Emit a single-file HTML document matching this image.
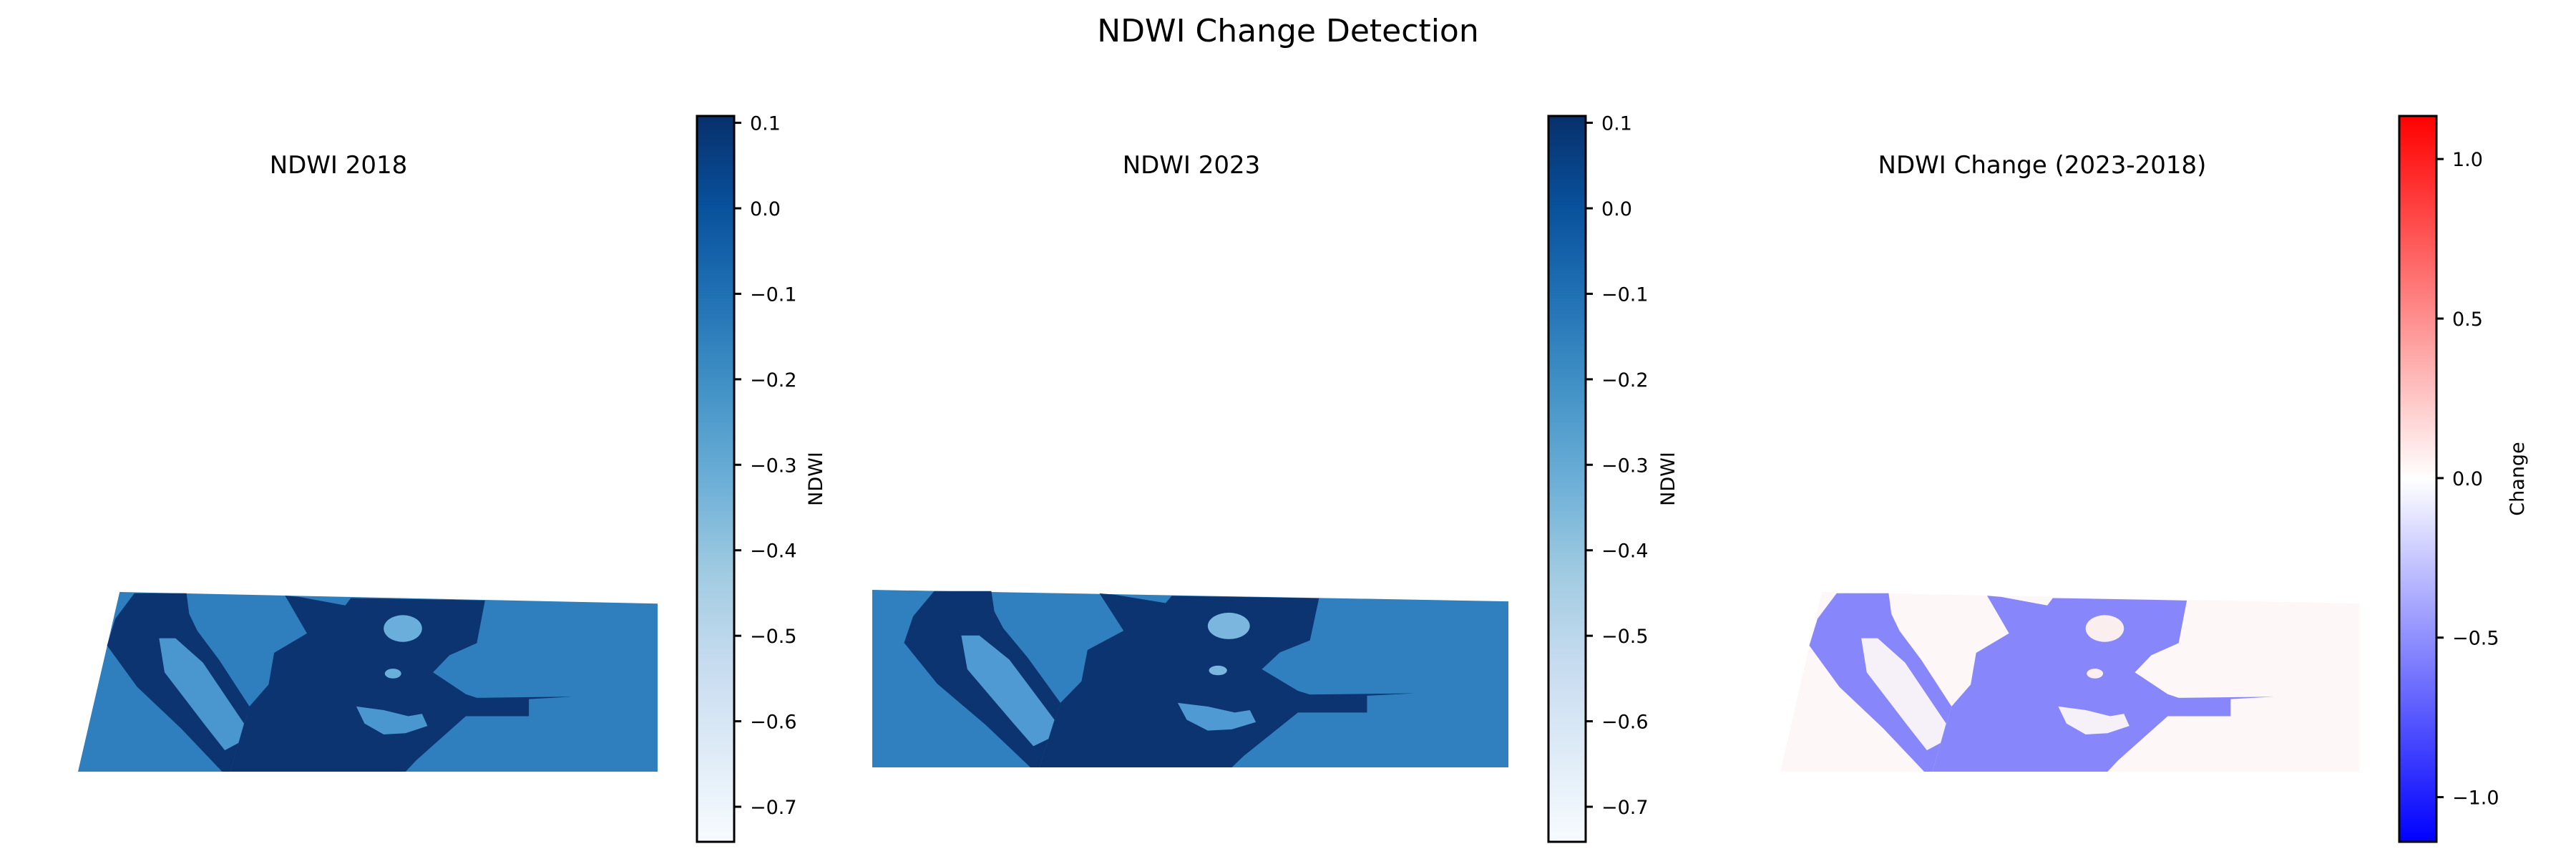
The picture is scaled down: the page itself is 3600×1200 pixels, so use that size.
<!DOCTYPE html>
<html><head><meta charset="utf-8"><style>
html,body{margin:0;padding:0;background:#fff;}
svg{display:block;font-family:"DejaVu Sans","Liberation Sans",sans-serif;}
</style></head><body>
<svg id="fig" width="3600" height="1200" viewBox="0 0 3600 1200" xmlns="http://www.w3.org/2000/svg">
<defs>
<linearGradient id="blues" x1="0" y1="1" x2="0" y2="0">
<stop offset="0" stop-color="#f7fbff"/><stop offset="0.125" stop-color="#deebf7"/><stop offset="0.25" stop-color="#c6dbef"/><stop offset="0.375" stop-color="#9ecae1"/><stop offset="0.5" stop-color="#6baed6"/><stop offset="0.625" stop-color="#4292c6"/><stop offset="0.75" stop-color="#2171b5"/><stop offset="0.875" stop-color="#08519c"/><stop offset="1" stop-color="#08306b"/>
</linearGradient>
<linearGradient id="bwr" x1="0" y1="1" x2="0" y2="0">
<stop offset="0" stop-color="#0000ff"/><stop offset="0.5" stop-color="#ffffff"/><stop offset="1" stop-color="#ff0000"/>
</linearGradient>
</defs>
<text x="1800" y="58" font-size="44" text-anchor="middle">NDWI Change Detection</text>
<text x="473" y="242" font-size="34" text-anchor="middle">NDWI 2018</text>
<text x="1665" y="242" font-size="34" text-anchor="middle">NDWI 2023</text>
<text x="2854" y="242" font-size="34" text-anchor="middle">NDWI Change (2023-2018)</text>
<g id="maps"></g>
<g id="cbars"></g>
</svg>
<script>
const ndwiTicks = [0.1, 0.0, -0.1, -0.2, -0.3, -0.4, -0.5, -0.6, -0.7];
const ndwiTickLabels = ["0.1","0.0","\u22120.1","\u22120.2","\u22120.3","\u22120.4","\u22120.5","\u22120.6","\u22120.7"];
const ndwiRange = [-0.741, 0.108];
const changeTicks = [1.0, 0.5, 0.0, -0.5, -1.0];
const changeTickLabels = ["1.0","0.5","0.0","\u22120.5","\u22121.0"];
const changeRange = [-1.14, 1.135];

const NS = "http://www.w3.org/2000/svg";
function mk(tag, attrs, parent){const e=document.createElementNS(NS,tag);for(const k in attrs)e.setAttribute(k,attrs[k]);parent.appendChild(e);return e;}

const shapeBase = [[218,140],[1200,188],[1200,878],[142,878]];
const shapeLeft = [[245,145],[340,145],[345,230],[360,300],[400,420],[455,610],[420,878],[405,878],[330,700],[250,530],[195,360],[210,250]];
const shapeStrip = [[290,330],[320,330],[370,430],[445,680],[435,760],[410,790],[375,690],[300,470]];
const shapeMain = [[520,155],[560,310],[500,390],[490,520],[455,610],[420,878],[740,878],[760,830],[850,650],[965,650],[965,580],[1045,570],[870,575],[850,560],[790,470],[820,400],[870,350],[885,175],[820,172],[640,165],[630,195],[545,160]];
const shapeIsle = [[650,610],[700,625],[745,650],[770,640],[780,690],[740,720],[700,725],[665,680]];

function drawMap(g, X0, W, Y0, H, slant, c, name){
  const mx = p => X0 + ((p[0]-142)/1058)*W;
  const my = p => Y0 + ((p[1]-140)/738)*H;
  const pts = arr => arr.map(p=>mx(p).toFixed(1)+","+my(p).toFixed(1)).join(" ");
  let b=shapeBase.slice(); if(!slant){b=[[142,140],[1200,188],[1200,878],[142,878]];}
  let e=mk("polygon",{points:pts(b),fill:c.land},g);
  
  
  e=mk("polygon",{points:pts(shapeLeft),fill:c.water},g);
  
  
  e=mk("polygon",{points:pts(shapeStrip),fill:c.strip},g);
  
  
  e=mk("polygon",{points:pts(shapeMain),fill:c.water},g);
  
  
  e=mk("polygon",{points:pts(shapeIsle),fill:c.strip},g);
  
  
  e=mk("ellipse",{cx:mx([735,0]),cy:my([0,290]),rx:W*35/1058,ry:H*55/738,fill:c.isle},g);
  
  
  e=mk("ellipse",{cx:mx([717,0]),cy:my([0,475]),rx:W*15/1058,ry:H*20/738,fill:c.isle},g);
  
  
}
const maps=document.getElementById("maps");
drawMap(maps,109,810,827,251,true,{land:"#2f7ebd",water:"#0b3470",strip:"#4a96cf",isle:"#6aaedb"},"map-2018");
drawMap(maps,1219,889,824,248,false,{land:"#3080bf",water:"#0b3470",strip:"#4f9ad2",isle:"#7ab6de"},"map-2023");
drawMap(maps,2488,809,827,251,true,{land:"#fdf7f7",water:"#8787fb",strip:"#f6f1f8",isle:"#fbeeee"},"map-change");

function drawCbar(g, x, w, top, bot, range, ticks, labels, grad, label, lx, name){
  const y = v => bot - (v-range[0])/(range[1]-range[0])*(bot-top);
  let r=mk("rect",{x:x,y:top,width:w,height:bot-top,fill:"url(#"+grad+")",stroke:"#000","stroke-width":3},g);
  
  
  ticks.forEach((v,i)=>{
    const t=mk("line",{x1:x+w,x2:x+w+10,y1:y(v),y2:y(v),stroke:"#000","stroke-width":3},g);
    
    
    const tx=mk("text",{x:x+w+22,y:y(v)+10,"font-size":27},g);
    tx.textContent=labels[i];
    
    
  });
  const lb=mk("text",{x:lx,y:(top+bot)/2,"font-size":27,"text-anchor":"middle",transform:"rotate(-90 "+lx+" "+(top+bot)/2+")",dy:"10"},g);
  lb.textContent=label;
  
  
}
const cb=document.getElementById("cbars");
drawCbar(cb,974,52,162,1176,ndwiRange,ndwiTicks,ndwiTickLabels,"blues","NDWI",1139,"colorbar-2018");
drawCbar(cb,2164,52,162,1176,ndwiRange,ndwiTicks,ndwiTickLabels,"blues","NDWI",2330,"colorbar-2023");
drawCbar(cb,3353,52,162,1176,changeRange,changeTicks,changeTickLabels,"bwr","Change",3517,"colorbar-change");
</script>
</body></html>
